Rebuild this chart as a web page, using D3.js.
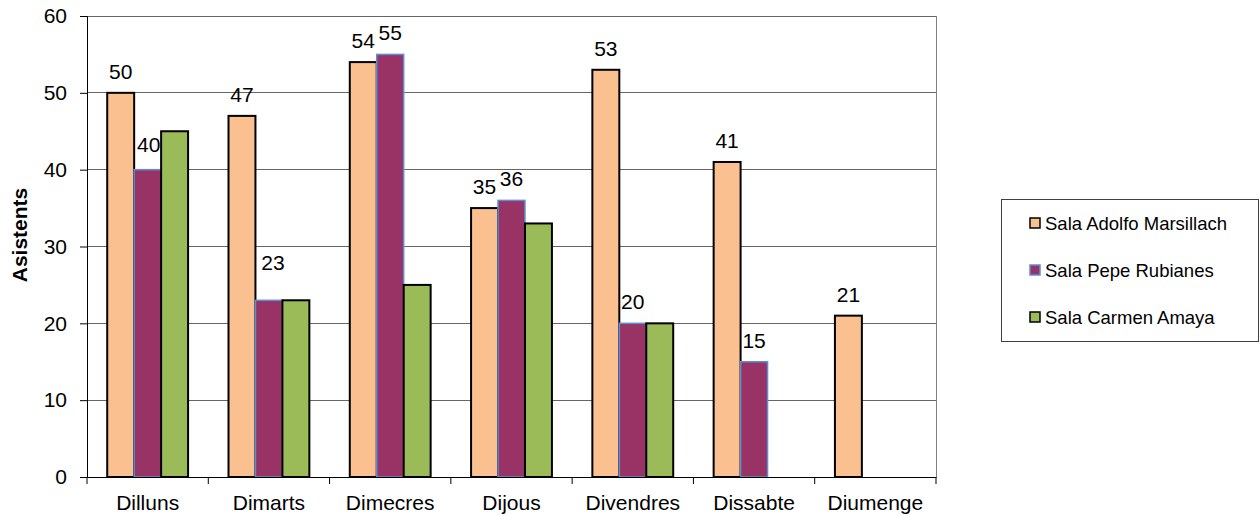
<!DOCTYPE html>
<html>
<head>
<meta charset="utf-8">
<script src="https://cdn.jsdelivr.net/npm/d3@7"></script>
<style>
  body { margin: 0; background: #fff; }
  svg { display: block; font-family: "Liberation Sans", Arial, sans-serif; }
</style>
</head>
<body>
<svg id="chart" width="1260" height="515"></svg>
<script>
const days = ["Dilluns", "Dimarts", "Dimecres", "Dijous", "Divendres", "Dissabte", "Diumenge"];
const seriesNames = ["Sala Adolfo Marsillach", "Sala Pepe Rubianes", "Sala Carmen Amaya"];
const adolfo = [50, 47, 54, 35, 53, 41, 21];
const pepe = [40, 23, 55, 36, 20, 15, 0];
const carmen = [45, 23, 25, 33, 20, 0, 0];
const yTicks = [0, 10, 20, 30, 40, 50, 60];

const seriesValues = [adolfo, pepe, carmen];
const fills = ["#FAC090", "#993366", "#9BBB59"];
const strokes = ["#000", "#5B8FD5", "#000"];
const labelled = [true, true, false];
// hand-moved labels in the original (series index, day index) -> [dx, dy]
const labelNudge = { "1-0": [1, -4], "1-1": [4, -16] };

const svg = d3.select("#chart");
const plotLeft = 87, plotRight = 936, plotTop = 16, plotBottom = 477;

const x0 = d3.scaleBand().domain(days).range([plotLeft, plotRight]).padding(0);
const x1 = d3.scaleBand().domain(seriesNames).range([0, x0.bandwidth()])
  .paddingInner(0).paddingOuter(0.75);
const y = d3.scaleLinear().domain([0, 60]).range([plotBottom, plotTop]);

// gridlines
svg.append("g")
  .selectAll("line")
  .data(yTicks.filter(d => d > 0))
  .enter()
  .append("line")
  .attr("x1", plotLeft).attr("x2", plotRight)
  .attr("y1", d => y(d)).attr("y2", d => y(d))
  .attr("stroke", "#666").attr("stroke-width", 1)
  .attr("shape-rendering", "crispEdges");

// right edge of plot area
svg.append("line")
  .attr("x1", plotRight).attr("x2", plotRight).attr("y1", plotTop).attr("y2", plotBottom)
  .attr("stroke", "#808080").attr("shape-rendering", "crispEdges");

// bars
const groups = svg.append("g")
  .selectAll("g")
  .data(seriesNames)
  .enter()
  .append("g");

groups.each(function (name, si) {
  d3.select(this)
    .selectAll("rect")
    .data(days.map((d, i) => ({ day: d, value: seriesValues[si][i] })).filter(p => p.value > 0))
    .enter()
    .append("rect")
    .attr("x", p => x0(p.day) + x1(name))
    .attr("y", p => y(p.value))
    .attr("width", x1.bandwidth())
    .attr("height", p => y(0) - y(p.value))
    .attr("fill", fills[si])
    .attr("stroke", strokes[si])
    .attr("stroke-width", si === 1 ? 1.5 : 2);
});

// data labels
groups.each(function (name, si) {
  if (!labelled[si]) return;
  d3.select(this)
    .selectAll("text")
    .data(days.map((d, i) => ({ day: d, i: i, value: seriesValues[si][i] })).filter(p => p.value > 0))
    .enter()
    .append("text")
    .attr("x", p => x0(p.day) + x1(name) + x1.bandwidth() / 2 + (labelNudge[si + "-" + p.i] || [0, 0])[0])
    .attr("y", p => y(p.value) - 14 + (labelNudge[si + "-" + p.i] || [0, 0])[1])
    .attr("text-anchor", "middle")
    .attr("font-size", 21)
    .attr("fill", "#000")
    .text(p => p.value);
});

// y axis
const yAxis = svg.append("g")
  .attr("transform", "translate(" + plotLeft + ",0)")
  .call(d3.axisLeft(y).tickValues(yTicks).tickSize(7).tickPadding(13));
yAxis.select(".domain").attr("stroke", "#000");
yAxis.selectAll("line").attr("stroke", "#000");
yAxis.selectAll("text").attr("font-size", 21).attr("font-family", null).attr("fill", "#000");

// x axis
const xAxis = svg.append("g")
  .attr("transform", "translate(0," + plotBottom + ")")
  .call(d3.axisBottom(x0).tickSize(0).tickSizeOuter(0));
xAxis.select(".domain").attr("stroke", "#000");
xAxis.selectAll("text")
  .attr("font-size", 21).attr("font-family", null).attr("fill", "#000")
  .attr("dy", null).attr("y", 33);
xAxis.selectAll(".boundary")
  .data(days.map(d => x0(d)).concat([x0.range()[1]]))
  .enter()
  .append("line")
  .attr("class", "boundary")
  .attr("x1", d => d).attr("x2", d => d)
  .attr("y1", 0).attr("y2", 7)
  .attr("stroke", "#000");

// y title
svg.append("text")
  .attr("transform", "translate(27,235) rotate(-90)")
  .attr("text-anchor", "middle")
  .attr("font-size", 21)
  .attr("font-weight", "bold")
  .text("Asistents");

// legend
const legend = svg.append("g");
legend.append("rect")
  .attr("x", 1001).attr("y", 199).attr("width", 257).attr("height", 142)
  .attr("fill", "#fff").attr("stroke", "#404040").attr("stroke-width", 1)
  .attr("shape-rendering", "crispEdges");
const items = legend.selectAll("g.item")
  .data(seriesNames)
  .enter()
  .append("g")
  .attr("class", "item")
  .attr("transform", (d, i) => "translate(1030," + (218 + i * 47) + ")");
items.append("rect")
  .attr("width", 10).attr("height", 10)
  .attr("fill", (d, i) => fills[i])
  .attr("stroke", (d, i) => strokes[i])
  .attr("stroke-width", 1.5);
items.append("text")
  .attr("x", 15).attr("y", 12)
  .attr("font-size", 18.5)
  .text(d => d);
</script>
</body>
</html>
